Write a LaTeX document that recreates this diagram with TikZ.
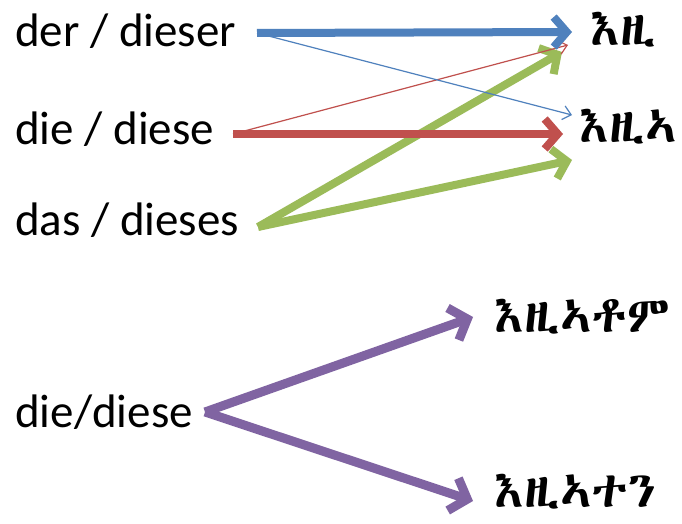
\documentclass[tikz,border=0pt]{standalone}
\usepackage{fontspec}
\setmainfont{Carlito}
\IfFontExistsTF{FreeSerif.otf}
  {\newfontfamily\ethfont[FakeBold=3]{FreeSerif.otf}}
  {\IfFontExistsTF{Abyssinica SIL}
    {\newfontfamily\ethfont{Abyssinica SIL}}
    {\newfontfamily\ethfont{DejaVu Sans}}}
\usetikzlibrary{arrows.meta}
\definecolor{oblue}{HTML}{4F81BD}
\definecolor{ored}{HTML}{C0504D}
\definecolor{ogreen}{HTML}{9BBB59}
\definecolor{opurple}{HTML}{8064A2}
\begin{document}
\begin{tikzpicture}[x=1pt,y=1pt,
  lat/.style={anchor=base west,inner sep=0pt,font=\fontsize{47}{50}\selectfont},
  eth/.style={anchor=base west,inner sep=0pt,font=\ethfont\fontsize{50}{54}\selectfont},
  bigarrow/.style={line width=8pt,-{Straight Barb[length=13pt,width=30pt]}},
  purplearrow/.style={line width=9pt,-{Straight Barb[length=15pt,width=34pt]}},
  smallarrow/.style={line width=1.2pt,-{Straight Barb[length=8pt,width=14pt]}}]
\useasboundingbox[fill=white] (0,0) rectangle (682,523);
% German words
\node[lat] (t1) at (15,476) {der / dieser};
\node[lat] (t2) at (15,378) {die / diese};
\node[lat] (t3) at (15,288) {das / dieses};
\node[lat] (t4) at (15,96) {die/diese};
% Tigrinya words
\node[eth] (e1) at (590,477) {እዚ};
\node[eth] (e2) at (579,380) {እዚኣ};
\node[eth] (e3) at (494,191) {እዚኣቶም};
\node[eth] (e4) at (494,16) {እዚኣተን};
% connector ends
\coordinate (b1s) at (257,490);
\coordinate (b1e) at (572,491);
\coordinate (b2e) at (572,408);
\coordinate (r1s) at (233,389);
\coordinate (r1e) at (563,389);
\coordinate (r2e) at (568,478);
\coordinate (g1s) at (258,296);
\coordinate (g1e) at (562,471);
\coordinate (g2e) at (572,363);
\coordinate (p1s) at (205,111);
\coordinate (p1e) at (473,206);
\coordinate (p2e) at (473,22);
% arrows
\draw[bigarrow,ogreen] (g1s) -- (g1e);
\draw[bigarrow,ogreen] (g1s) -- (g2e);
\draw[smallarrow,ored] (r1s) -- (r2e);
\draw[bigarrow,ored] (r1s) -- (r1e);
\draw[bigarrow,oblue] (b1s) -- (b1e);
\draw[smallarrow,oblue] (b1s) -- (b2e);
\draw[purplearrow,opurple] (p1s) -- (p1e);
\draw[purplearrow,opurple] (p1s) -- (p2e);
\end{tikzpicture}
\end{document}
